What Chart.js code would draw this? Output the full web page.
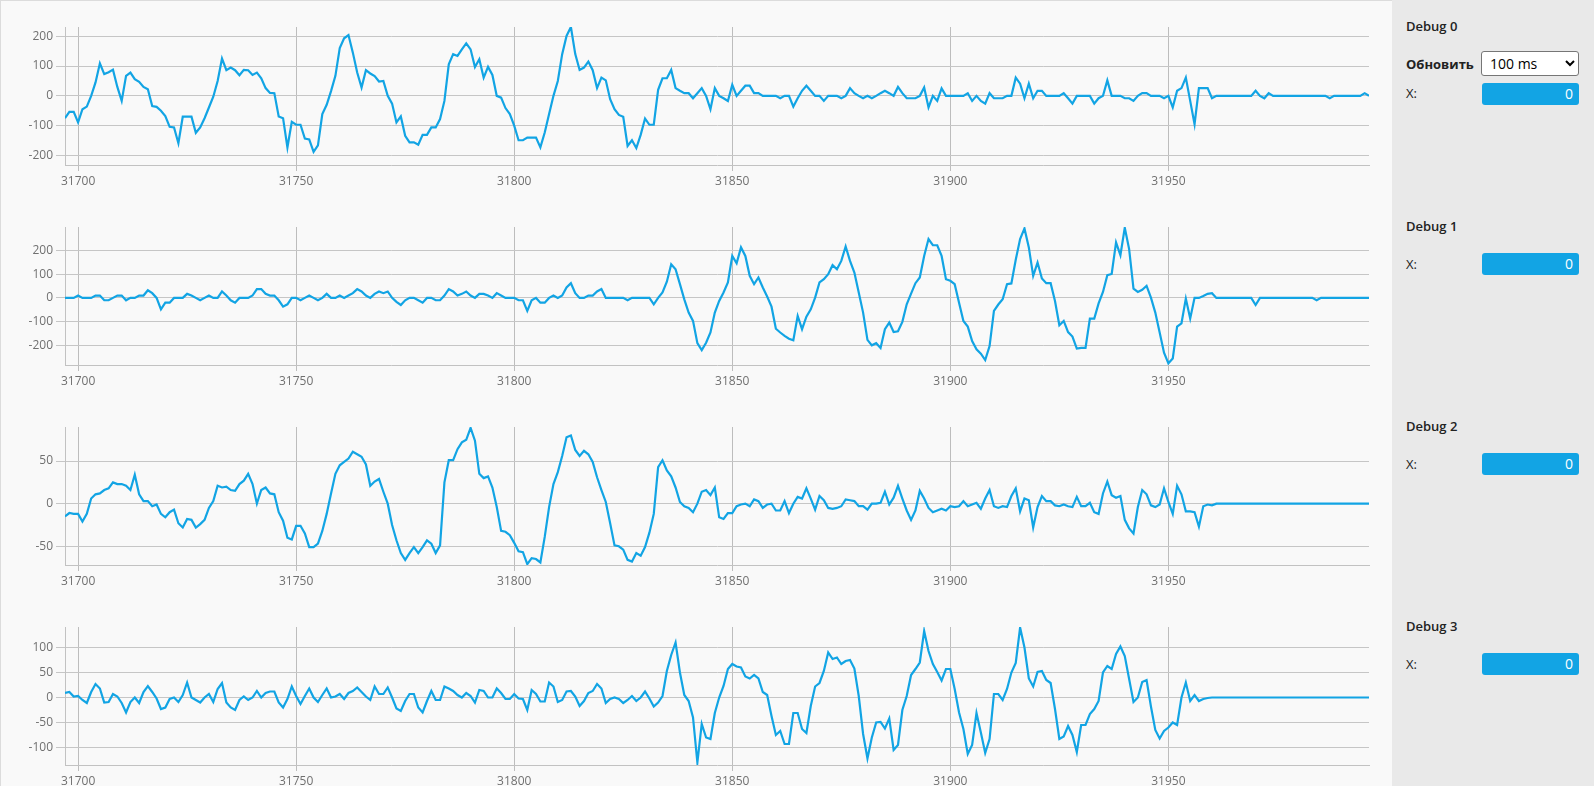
<!DOCTYPE html>
<html lang="ru">
<head>
  <meta charset="UTF-8" />
  <title>Debug</title>
  <style>
    * { box-sizing: border-box; }
    body {
      margin: 0;
      width: 1594px;
      height: 786px;
      overflow: hidden;
      font-family: 'Open Sans', Arial, sans-serif;
      background: #f9f9f9;
    }
    #plots {
      position: absolute;
      left: 0; top: 0;
      width: 1392px; height: 786px;
      background: #f9f9f9;
      border-top: 1px solid #dcdcdc;
      border-left: 1px solid #dcdcdc;
    }
    .plot {
      position: absolute;
      left: 0;
      width: 1392px;
      height: 200px;
    }
    #side {
      position: absolute;
      left: 1392px; top: 0;
      width: 202px; height: 786px;
      background: #e9e9e9;
      color: #222;
      font-size: 13px;
    }
    .ttl, .lbl {
      position: absolute;
      left: 14px;
      line-height: 16px;
    }
    .ttl { font-weight: 600; }
    .lbl.bold { font-weight: 700; }
    select {
      position: absolute;
      left: 89px; top: 51px;
      width: 98px; height: 25px;
      font-family: 'Open Sans', Arial, sans-serif;
      font-size: 14px;
      background: #fff;
      border: 1px solid #767676;
      border-radius: 3px;
      padding: 0 4px;
    }
    .val {
      position: absolute;
      left: 90px;
      width: 97px; height: 22px;
      background: #12a4e4;
      border-radius: 3px;
      color: #fff;
      text-align: right;
      padding-right: 6px;
      font-size: 14px;
      line-height: 22px;
    }
  </style>
</head>
<body>

<div id="plots">
  <div class="plot" style="top:0px"><canvas id="c0"></canvas></div>
  <div class="plot" style="top:200px"><canvas id="c1"></canvas></div>
  <div class="plot" style="top:400px"><canvas id="c2"></canvas></div>
  <div class="plot" style="top:600px"><canvas id="c3"></canvas></div>
</div>

<div id="side">
  <div class="ttl" style="top:18px">Debug 0</div>
  <div class="lbl bold" style="top:56px">Обновить</div>
  <select><option>100 ms</option></select>
  <div class="lbl" style="top:85px">X:</div>
  <div class="val" style="top:83px">0</div>

  <div class="ttl" style="top:218px">Debug 1</div>
  <div class="lbl" style="top:256px">X:</div>
  <div class="val" style="top:253px">0</div>

  <div class="ttl" style="top:418px">Debug 2</div>
  <div class="lbl" style="top:456px">X:</div>
  <div class="val" style="top:453px">0</div>

  <div class="ttl" style="top:618px">Debug 3</div>
  <div class="lbl" style="top:656px">X:</div>
  <div class="val" style="top:653px">0</div>
</div>

<script src="https://cdn.jsdelivr.net/npm/chart.js"></script>
<script>
  // sample counter of the first point on screen
  const SAMPLE_START = 31697;
  const X_TICKS = [31700, 31750, 31800, 31850, 31900, 31950];

  const debug0 = [
    -75,-54,-54,-89,-45,-36,0,45,109,73,
    79,88,30,-17,67,78,56,47,30,22,
    -34,-37,-50,-68,-104,-106,-159,-70,-70,-70,
    -124,-106,-75,-39,-3,50,125,86,95,86,
    69,87,86,70,78,59,26,10,9,-69,
    -75,-173,-87,-97,-97,-143,-146,-188,-166,-61,
    -30,16,67,160,193,204,145,78,28,86,
    75,66,48,50,0,-26,-89,-69,-134,-156,
    -156,-164,-131,-131,-106,-106,-78,-17,106,140,
    134,156,176,156,97,123,61,97,70,0,
    -6,-41,-61,-100,-149,-149,-140,-140,-140,-173,
    -123,-61,0,50,140,201,231,140,87,95,
    115,86,26,61,52,-11,-45,-64,-70,-168,
    -149,-175,-131,-76,-97,-97,20,59,59,87,
    26,17,9,9,-8,9,26,0,-45,26,
    0,-8,-17,37,0,17,34,34,9,9,
    0,0,0,0,-8,0,0,-36,-8,17,
    34,17,0,0,-17,0,0,0,-8,0,
    26,9,0,-8,0,-8,0,9,17,9,
    0,30,9,-8,-8,-8,0,28,-39,0,
    -17,25,0,0,0,0,0,9,-17,0,
    -17,-26,9,-8,-8,-8,0,0,61,41,
    -8,41,-8,17,17,0,0,0,0,9,
    -8,-26,0,0,0,0,-26,-8,0,52,
    0,0,0,-8,-8,-17,0,9,9,0,
    0,0,-8,0,-39,17,26,61,-17,-95,
    26,26,26,-8,0,0,0,0,0,0,
    0,0,0,17,0,-8,9,0,0,0,
    0,0,0,0,0,0,0,0,0,0,
    -8,0,0,0,0,0,0,0,9,0
  ];

  const debug1 = [
    0,0,0,10,0,0,0,10,10,-10,
    -10,0,10,10,-10,0,0,10,10,32,
    20,0,-48,-20,-20,0,0,0,17,10,
    0,-10,0,10,0,0,27,10,-10,-20,
    0,0,0,10,37,37,17,10,10,-10,
    -37,-27,0,0,-10,0,10,0,-10,0,
    17,0,0,10,0,10,20,37,27,10,
    0,17,27,20,27,0,-17,-30,-10,0,
    0,-10,-20,0,0,-10,-10,10,37,27,
    10,17,27,10,0,17,17,10,0,20,
    10,0,0,0,-10,-10,-55,-10,0,-20,
    -20,0,10,0,10,44,62,20,0,0,
    10,10,27,37,0,0,0,0,0,-10,
    0,0,0,0,0,-27,0,23,68,142,
    121,58,-6,-62,-97,-191,-220,-189,-146,-62,
    -13,23,65,177,146,213,177,93,58,86,
    44,6,-37,-130,-146,-160,-172,-179,-76,-132,
    -79,-48,1,65,79,100,138,121,156,217,
    156,107,23,-62,-177,-200,-191,-211,-132,-104,
    -144,-141,-101,-27,18,62,86,177,248,222,
    222,177,79,72,58,-20,-97,-121,-182,-217,
    -235,-262,-203,-55,-28,-6,58,61,161,248,
    293,213,93,149,82,62,62,-13,-115,-97,
    -144,-163,-214,-211,-211,-87,-87,-23,25,96,
    101,234,180,296,206,39,25,34,51,1,
    -62,-146,-231,-276,-256,-121,-107,-3,-87,0,
    0,8,17,20,0,0,0,0,0,0,
    0,0,0,-30,0,0,0,0,0,0,
    0,0,0,0,0,0,0,-10,0,0,
    0,0,0,0,0,0,0,0,0,0
  ];

  const debug2 = [
    -15,-11,-12,-12,-21,-12,6,11,12,16,
    18,25,23,23,21,16,34,11,3,3,
    -3,-1,-12,-16,-10,-7,-23,-28,-18,-19,
    -28,-24,-19,-5,3,21,19,20,16,15,
    23,27,35,23,0,16,19,12,11,-10,
    -20,-40,-42,-26,-26,-35,-51,-51,-47,-32,
    -12,12,35,45,49,53,61,58,55,46,
    21,26,29,14,0,-25,-43,-58,-66,-58,
    -51,-58,-51,-43,-47,-58,-49,25,51,51,
    64,72,75,89,74,35,30,32,19,-4,
    -32,-33,-37,-46,-56,-57,-71,-64,-65,-69,
    -39,-4,23,37,56,78,80,63,56,62,
    58,49,31,16,2,-23,-49,-50,-54,-66,
    -68,-58,-61,-51,-34,-12,43,51,39,32,
    19,2,-3,-5,-10,0,14,16,10,19,
    -16,-18,-11,-11,-3,-1,0,-3,5,3,
    -5,-1,0,-8,-8,3,-11,0,8,6,
    18,6,-7,9,4,-5,-6,-5,-3,5,
    4,3,-3,-3,-7,0,0,1,14,-1,
    7,21,6,-8,-19,-8,15,6,-5,-10,
    -8,-6,-8,-3,-4,-3,3,-3,-1,1,
    -6,6,16,-3,-5,-3,-4,9,18,-9,
    6,4,-28,-4,9,3,3,-2,-3,-1,
    -3,-4,8,-3,-3,1,-10,-12,12,26,
    10,7,9,-19,-29,-35,-4,16,11,-2,
    -4,-1,18,2,-12,21,11,-9,-9,-10,
    -27,-3,-1,-2,0,0,0,0,0,0,
    0,0,0,0,0,0,0,0,0,0,
    0,0,0,0,0,0,0,0,0,0,
    0,0,0,0,0,0,0,0,0,0
  ];

  const debug3 = [
    9,11,2,3,-5,-11,11,27,18,-10,
    -9,7,2,-11,-30,-9,0,-11,11,23,
    11,-2,-23,-20,-3,0,-9,5,30,0,
    -5,-10,0,7,-9,17,29,-10,-20,-25,
    -5,2,-5,0,13,0,9,12,12,-10,
    -20,-3,22,3,-13,3,18,0,-9,5,
    18,0,2,7,-3,9,13,20,11,2,
    -5,22,7,7,20,0,-22,-27,-7,7,
    7,-20,-30,-7,13,-5,-5,22,18,13,
    5,0,9,3,-10,15,13,0,0,18,
    9,-3,-3,7,-2,-3,-25,15,7,-8,
    -8,30,22,-9,-5,12,13,2,-17,-7,
    9,13,27,18,-11,-3,0,-3,-11,-5,
    3,-7,0,12,-2,-18,-10,3,53,85,
    110,50,5,-7,-40,-130,-53,-80,-83,-31,
    0,23,57,67,62,60,42,38,45,38,
    11,5,-37,-75,-67,-93,-93,-31,-31,-63,
    -71,-17,22,29,53,90,77,80,67,73,
    75,58,3,-73,-122,-80,-50,-49,-62,-42,
    -105,-95,-25,3,45,57,70,133,93,67,
    51,34,57,57,17,-30,-63,-113,-95,-31,
    -70,-111,-83,7,7,-5,17,50,69,140,
    100,38,22,51,53,35,29,-23,-83,-78,
    -57,-75,-109,-55,-55,-33,-23,-7,50,63,
    57,87,102,83,37,-9,0,31,35,-18,
    -65,-82,-67,-60,-50,-55,0,30,-7,5,
    -7,-3,-1,0,0,0,0,0,0,0,
    0,0,0,0,0,0,0,0,0,0,
    0,0,0,0,0,0,0,0,0,0,
    0,0,0,0,0,0,0,0,0,0
  ];

  const yMin = [-232, -283, -72, -135];
  const yMax = [231, 299, 90, 141];
  const yTicks = [
    [-200, -100, 0, 100, 200],
    [-200, -100, 0, 100, 200],
    [-50, 0, 50],
    [-100, -50, 0, 50, 100]
  ];

  Chart.defaults.font.family = "'Open Sans', Arial, sans-serif";
  Chart.defaults.font.size = 12;
  Chart.defaults.color = '#707070';

  function makeChart(id, values, k) {
    const pts = values.map((v, i) => ({ x: SAMPLE_START + i, y: v }));
    return new Chart(document.getElementById(id), {
      type: 'line',
      data: {
        datasets: [{
          data: pts,
          borderColor: '#12a4e4',
          borderWidth: 2.2,
          pointRadius: 0,
          tension: 0,
          fill: false
        }]
      },
      options: {
        responsive: true,
        maintainAspectRatio: false,
        animation: false,
        layout: { padding: { top: 26, right: 24, left: 0, bottom: 0 } },
        plugins: { legend: { display: false }, tooltip: { enabled: false } },
        scales: {
          x: {
            type: 'linear',
            min: SAMPLE_START,
            max: SAMPLE_START + values.length - 1,
            afterBuildTicks: s => { s.ticks = X_TICKS.map(v => ({ value: v })); },
            afterFit: s => { s.height = 36; },
            grid: { color: '#bdbdbd', tickLength: 6 },
            border: { color: '#c2c2c2' },
            ticks: {
              autoSkip: false,
              maxRotation: 0,
              padding: 3,
              callback: v => String(v)
            }
          },
          y: {
            min: yMin[k],
            max: yMax[k],
            afterBuildTicks: s => { s.ticks = yTicks[k].map(v => ({ value: v })); },
            afterFit: s => { s.width = 64; },
            grid: { color: '#c6c6c6', tickLength: 9 },
            border: { color: '#c2c2c2' },
            ticks: {
              padding: 3,
              callback: v => String(v)
            }
          }
        }
      }
    });
  }

  makeChart('c0', debug0, 0);
  makeChart('c1', debug1, 1);
  makeChart('c2', debug2, 2);
  makeChart('c3', debug3, 3);
</script>
</body>
</html>
